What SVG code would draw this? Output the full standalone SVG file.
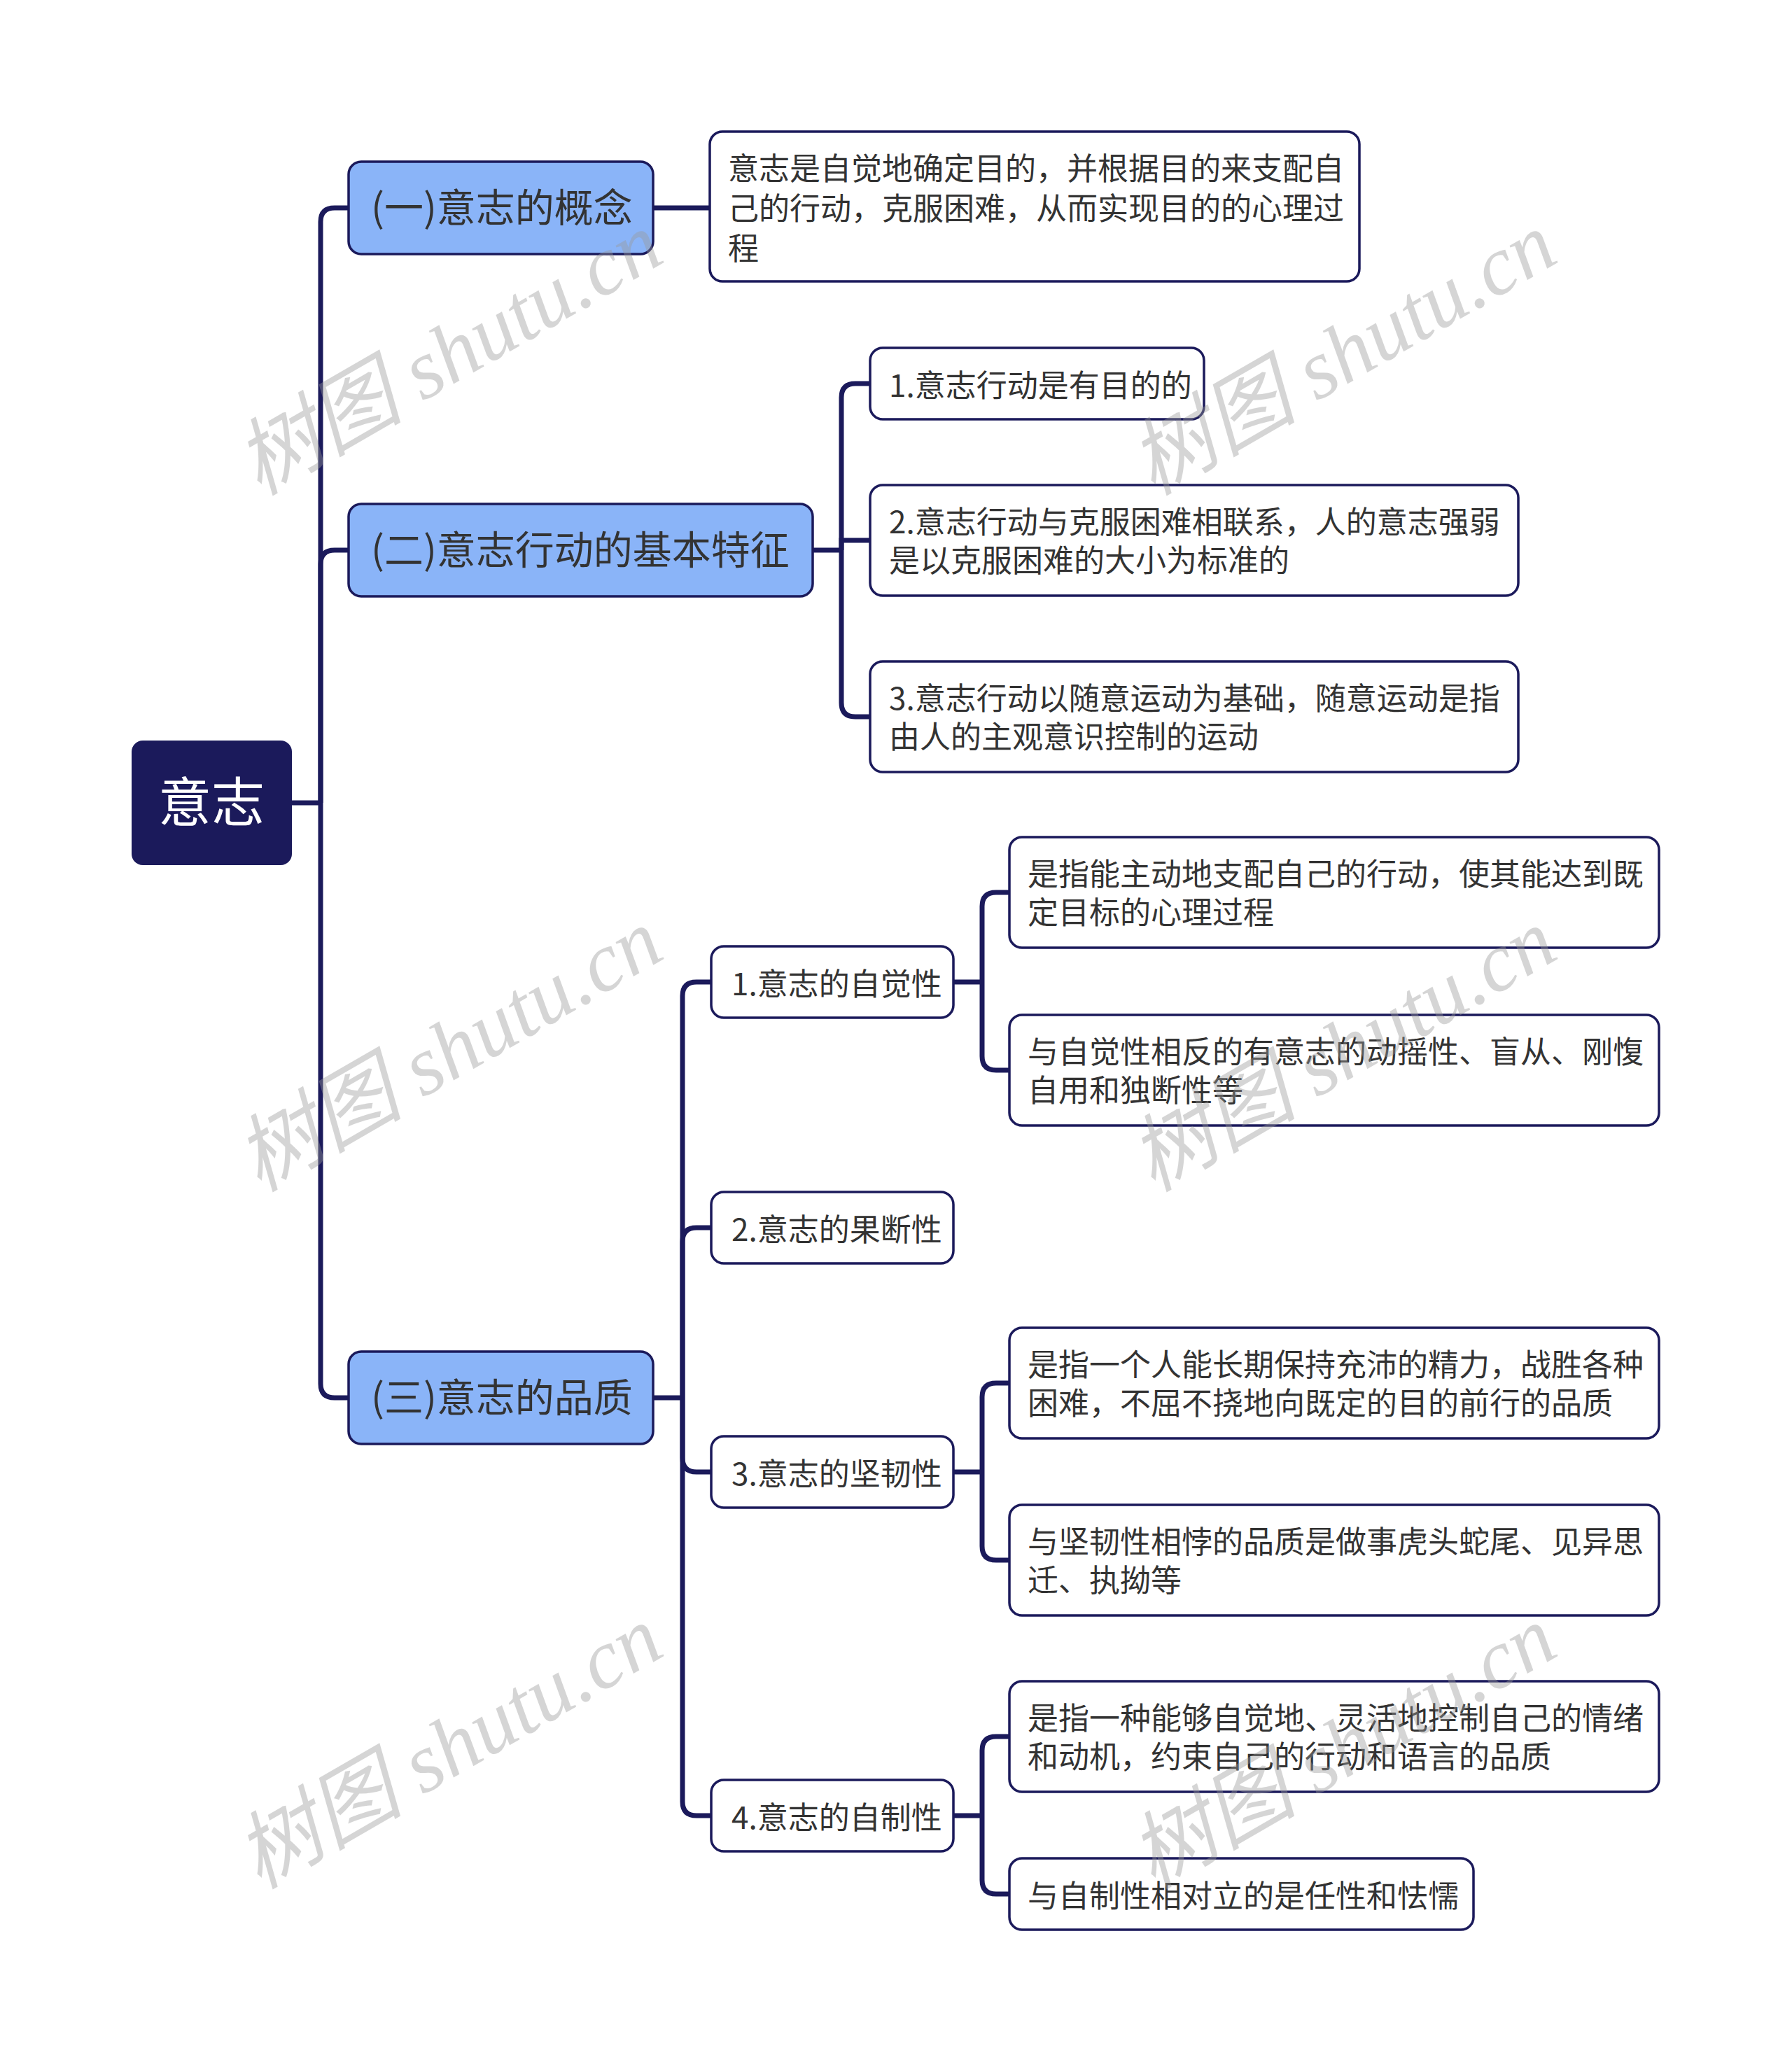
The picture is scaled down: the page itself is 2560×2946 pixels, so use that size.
<svg xmlns="http://www.w3.org/2000/svg" width="2560" height="2946" viewBox="0 0 2560 2946">
<style>
.c{fill:none;stroke:#1B1A5B;stroke-width:7}
.root rect{fill:#1B1A5B}
.l1 rect{fill:#8AB4F8;stroke:#1B1A5B;stroke-width:3.5}
.n rect{fill:#fff;stroke:#1B1A5B;stroke-width:3.5}
text{font-family:"Noto Sans CJK SC","Noto Sans",sans-serif;fill:#333}
.root text{fill:#fff;font-size:76px}
.l1 text{font-size:56px}
.n text{font-size:44px}
.wm{font-family:"Liberation Serif","Noto Sans CJK SC",serif;font-style:italic;font-size:120px;fill:#999;opacity:.4}
</style>
<rect width="2560" height="2946" fill="#fff"/>
<g id="connectors">
<path class="c" d="M417,1147 H458"/>
<path class="c" d="M458,1147 V317 Q458,297 478,297 H498"/>
<path class="c" d="M458,1147 V806 Q458,786 478,786 H498"/>
<path class="c" d="M458,1147 V1977 Q458,1997 478,1997 H498"/>
<path class="c" d="M933,297 H1014"/>
<path class="c" d="M1161,786 H1202"/>
<path class="c" d="M1202,786 V568 Q1202,548 1222,548 H1243"/>
<path class="c" d="M1202,786 V772 H1243"/>
<path class="c" d="M1202,786 V1004 Q1202,1024 1222,1024 H1243"/>
<path class="c" d="M933,1997 H975"/>
<path class="c" d="M975,1997 V1423 Q975,1403 995,1403 H1016"/>
<path class="c" d="M975,1997 V1774 Q975,1754 995,1754 H1016"/>
<path class="c" d="M975,1997 V2083 Q975,2103 995,2103 H1016"/>
<path class="c" d="M975,1997 V2574 Q975,2594 995,2594 H1016"/>
<path class="c" d="M1362,1403 H1403"/>
<path class="c" d="M1403,1403 V1295 Q1403,1275 1423,1275 H1442"/>
<path class="c" d="M1403,1403 V1509 Q1403,1529 1423,1529 H1442"/>
<path class="c" d="M1362,2103 H1403"/>
<path class="c" d="M1403,2103 V1996 Q1403,1976 1423,1976 H1442"/>
<path class="c" d="M1403,2103 V2209 Q1403,2229 1423,2229 H1442"/>
<path class="c" d="M1362,2594 H1403"/>
<path class="c" d="M1403,2594 V2501 Q1403,2481 1423,2481 H1442"/>
<path class="c" d="M1403,2594 V2686 Q1403,2706 1423,2706 H1442"/>
</g>
<g id="root" class="root"><rect x="188" y="1058" width="229" height="178" rx="16"/><text x="302" y="1174" text-anchor="middle">意志</text></g>
<g id="n1" class="l1"><rect x="498" y="231" width="435" height="132" rx="18"/><text x="530" y="317">(一)意志的概念</text></g>
<g id="n2" class="l1"><rect x="498" y="720" width="663" height="132" rx="18"/><text x="530" y="806">(二)意志行动的基本特征</text></g>
<g id="n3" class="l1"><rect x="498" y="1931" width="435" height="132" rx="18"/><text x="530" y="2017">(三)意志的品质</text></g>
<g id="n1a" class="n"><rect x="1014" y="188" width="928" height="214" rx="18"/><text x="1040" y="257">意志是自觉地确定目的，并根据目的来支配自</text><text x="1040" y="314">己的行动，克服困难，从而实现目的的心理过</text><text x="1040" y="371">程</text></g>
<g id="n2a" class="n"><rect x="1243" y="497" width="477" height="102" rx="18"/><text x="1270" y="567">1.意志行动是有目的的</text></g>
<g id="n2b" class="n"><rect x="1243" y="693" width="926" height="158" rx="18"/><text x="1270" y="762">2.意志行动与克服困难相联系，人的意志强弱</text><text x="1270" y="817">是以克服困难的大小为标准的</text></g>
<g id="n2c" class="n"><rect x="1243" y="945" width="926" height="158" rx="18"/><text x="1270" y="1014">3.意志行动以随意运动为基础，随意运动是指</text><text x="1270" y="1069">由人的主观意识控制的运动</text></g>
<g id="n3a" class="n"><rect x="1016" y="1352" width="346" height="102" rx="18"/><text x="1045" y="1422">1.意志的自觉性</text></g>
<g id="n3b" class="n"><rect x="1016" y="1703" width="346" height="102" rx="18"/><text x="1045" y="1773">2.意志的果断性</text></g>
<g id="n3c" class="n"><rect x="1016" y="2052" width="346" height="102" rx="18"/><text x="1045" y="2122">3.意志的坚韧性</text></g>
<g id="n3d" class="n"><rect x="1016" y="2543" width="346" height="102" rx="18"/><text x="1045" y="2613">4.意志的自制性</text></g>
<g id="n3a1" class="n"><rect x="1442" y="1196" width="928" height="158" rx="18"/><text x="1468" y="1265">是指能主动地支配自己的行动，使其能达到既</text><text x="1468" y="1320">定目标的心理过程</text></g>
<g id="n3a2" class="n"><rect x="1442" y="1450" width="928" height="158" rx="18"/><text x="1468" y="1519">与自觉性相反的有意志的动摇性、盲从、刚愎</text><text x="1468" y="1574">自用和独断性等</text></g>
<g id="n3c1" class="n"><rect x="1442" y="1897" width="928" height="158" rx="18"/><text x="1468" y="1966">是指一个人能长期保持充沛的精力，战胜各种</text><text x="1468" y="2021">困难，不屈不挠地向既定的目的前行的品质</text></g>
<g id="n3c2" class="n"><rect x="1442" y="2150" width="928" height="158" rx="18"/><text x="1468" y="2219">与坚韧性相悖的品质是做事虎头蛇尾、见异思</text><text x="1468" y="2274">迁、执拗等</text></g>
<g id="n3d1" class="n"><rect x="1442" y="2402" width="928" height="158" rx="18"/><text x="1468" y="2471">是指一种能够自觉地、灵活地控制自己的情绪</text><text x="1468" y="2526">和动机，约束自己的行动和语言的品质</text></g>
<g id="n3d2" class="n"><rect x="1442" y="2655" width="663" height="102" rx="18"/><text x="1468" y="2725">与自制性相对立的是任性和怯懦</text></g>
<g id="watermarks">
<text class="wm" x="370" y="709" transform="rotate(-30 370 709)">树图 shutu.cn</text>
<text class="wm" x="1647" y="709" transform="rotate(-30 1647 709)">树图 shutu.cn</text>
<text class="wm" x="370" y="1704" transform="rotate(-30 370 1704)">树图 shutu.cn</text>
<text class="wm" x="1647" y="1704" transform="rotate(-30 1647 1704)">树图 shutu.cn</text>
<text class="wm" x="370" y="2700" transform="rotate(-30 370 2700)">树图 shutu.cn</text>
<text class="wm" x="1647" y="2700" transform="rotate(-30 1647 2700)">树图 shutu.cn</text>
</g>
</svg>
